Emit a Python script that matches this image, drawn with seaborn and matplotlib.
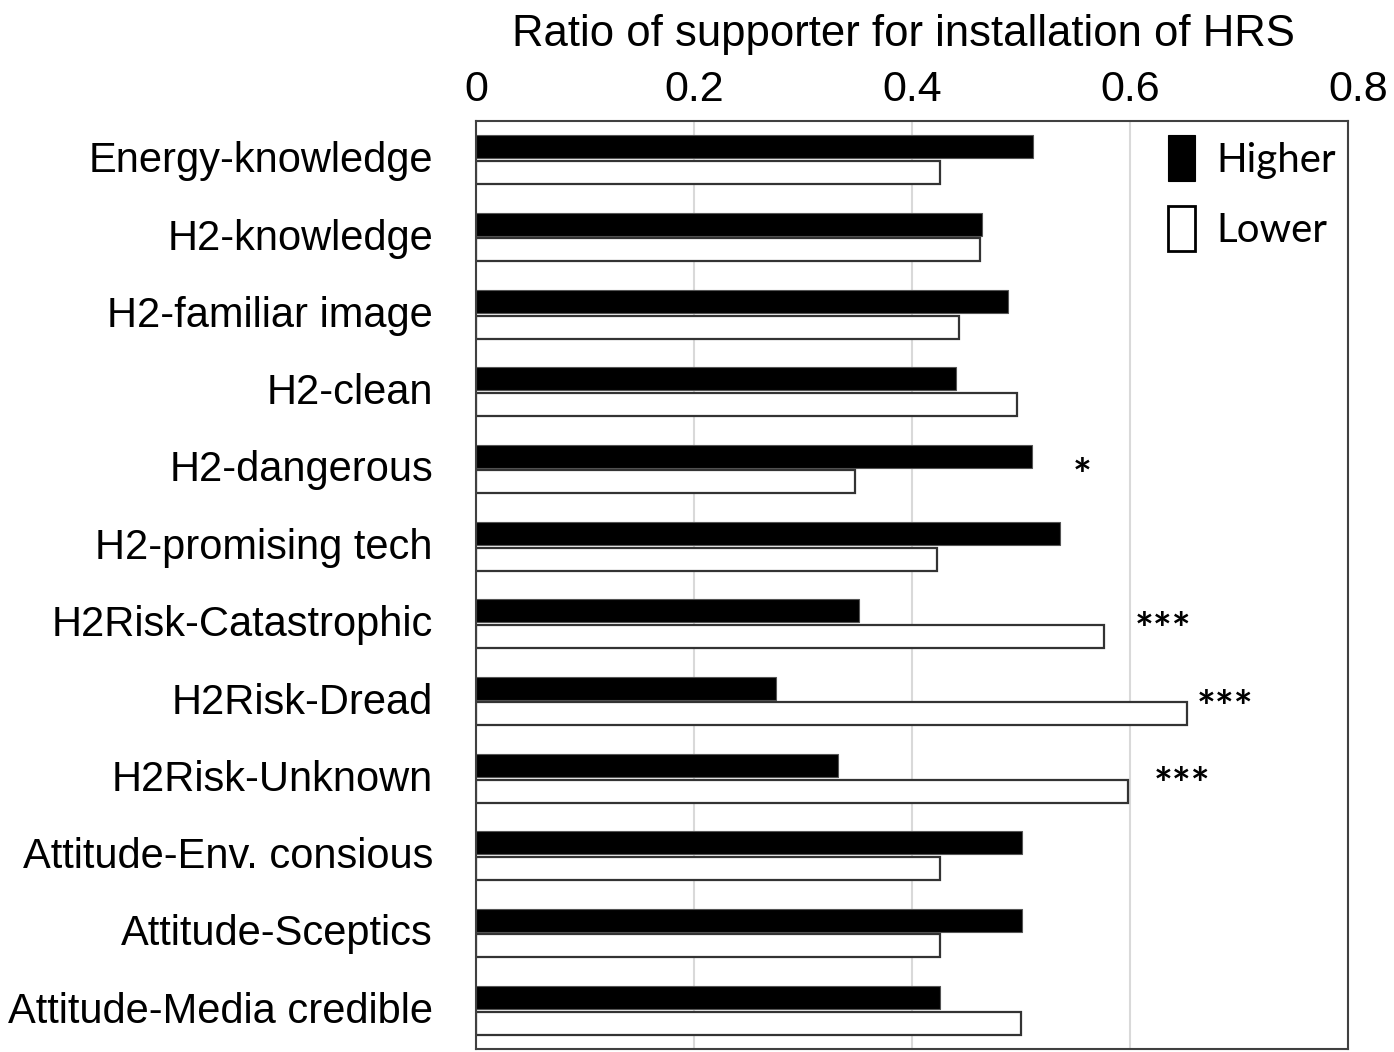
import numpy as np
import pandas as pd
import matplotlib
matplotlib.use("Agg")
import matplotlib.pyplot as plt
import matplotlib.transforms as mtransforms
import seaborn as sns

# Survey attributes and the share of supporters in the higher / lower group
categories = [
    "Energy-knowledge", "H2-knowledge", "H2-familiar image", "H2-clean",
    "H2-dangerous", "H2-promising tech", "H2Risk-Catastrophic", "H2Risk-Dread",
    "H2Risk-Unknown", "Attitude-Env. consious", "Attitude-Sceptics",
    "Attitude-Media credible",
]
higher = [0.511, 0.464, 0.488, 0.440, 0.510, 0.536, 0.351, 0.275, 0.332, 0.501, 0.501, 0.426]
lower = [0.426, 0.462, 0.443, 0.496, 0.348, 0.423, 0.576, 0.652, 0.598, 0.426, 0.426, 0.500]
groups = ["Higher", "Lower"]

x_ticks = [0, 0.2, 0.4, 0.6, 0.8]
x_tick_labels = ["0", "0.2", "0.4", "0.6", "0.8"]
x_title = "Ratio of supporter for installation of HRS"

# Significance marks
sig_categories = ["H2-dangerous", "H2Risk-Catastrophic", "H2Risk-Dread", "H2Risk-Unknown"]
sig_marks = ["*", "***", "***", "***"]
sig_x = [0.556, 0.630, 0.6875, 0.6475]

df = pd.DataFrame({
    "category": categories * 2,
    "ratio": higher + lower,
    "group": [groups[0]] * len(categories) + [groups[1]] * len(categories),
})

sns.set_style("white")
plt.rcParams["font.family"] = ["Liberation Sans", "DejaVu Sans"]
plt.rcParams["text.color"] = "black"
plt.rcParams["axes.labelcolor"] = "black"
plt.rcParams["xtick.color"] = "black"
plt.rcParams["ytick.color"] = "black"

fig = plt.figure(figsize=(13.94, 10.52), dpi=100)
ax = fig.add_axes([476 / 1394, 1 - 1049 / 1052, 872 / 1394, 928 / 1052])

sns.barplot(
    data=df, y="category", x="ratio", hue="group", order=categories,
    hue_order=groups, palette={"Higher": "black", "Lower": "white"},
    orient="h", width=0.66, gap=0.1, ax=ax, legend=True,
)

edge_colors = {"Higher": "#555555", "Lower": "#333333"}
edge_widths = {"Higher": 0.8, "Lower": 1.6}
for grp, cont in zip(groups, ax.containers):
    for bar in cont:
        bar.set_edgecolor(edge_colors[grp])
        bar.set_linewidth(edge_widths[grp])

ax.set_xlim(0, 0.8)
ax.set_ylim(len(categories) - 0.5, -0.5)
ax.set_xticks(x_ticks)
ax.set_xticklabels(x_tick_labels)
ax.xaxis.tick_top()
ax.xaxis.set_label_position("top")
ax.set_xlabel(x_title, fontsize=31.4, labelpad=17, color="black")
ax.set_ylabel("")
ax.tick_params(axis="x", length=0, pad=8, labelsize=31, labelcolor="black")
ax.tick_params(axis="y", length=0, pad=31, labelsize=30, labelcolor="black")
ax.xaxis.label.set_x(0.49)

# the last tick label sits slightly right of its tick
last = ax.get_xticklabels()[-1]
last.set_transform(last.get_transform() +
                   mtransforms.ScaledTranslation(10 / 100, 0, fig.dpi_scale_trans))
# category labels sit a touch above the bar-group centre
for lab in ax.get_yticklabels():
    lab.set_transform(lab.get_transform() +
                      mtransforms.ScaledTranslation(0, 3 / 100, fig.dpi_scale_trans))

ax.xaxis.grid(True, color="#d9d9d9", linewidth=1.5)
ax.yaxis.grid(False)
ax.set_axisbelow(True)
for sp in ax.spines.values():
    sp.set_visible(True)
    sp.set_color("#404040")
    sp.set_linewidth(1.5)

for cat, mark, xv in zip(sig_categories, sig_marks, sig_x):
    ax.text(xv, categories.index(cat) + 0.1, mark, ha="center", va="center",
            fontsize=32, fontweight="bold", family=["Lato", "DejaVu Sans"],
            color="black")

handles, labels = ax.get_legend_handles_labels()
leg = ax.legend(
    handles, labels, loc="upper left",
    bbox_to_anchor=(1168 / 1394, 1 - 140 / 1052), bbox_transform=fig.transFigure,
    frameon=False, borderpad=0, borderaxespad=0,
    handlelength=0.68, handleheight=1.0, handletextpad=0.52, labelspacing=0.78,
    prop={"family": "Lato", "size": 29},
)
for txt in leg.get_texts():
    txt.set_color("black")
for grp, h in zip(groups, leg.legend_handles):
    h.set_edgecolor("black")
    h.set_linewidth(2.0 if grp == "Lower" else 0.8)
    h.set_height(h.get_height() * 1.25)
    h.set_y(h.get_y() - h.get_height() * 0.1)

fig.savefig("out.png", dpi=100)
